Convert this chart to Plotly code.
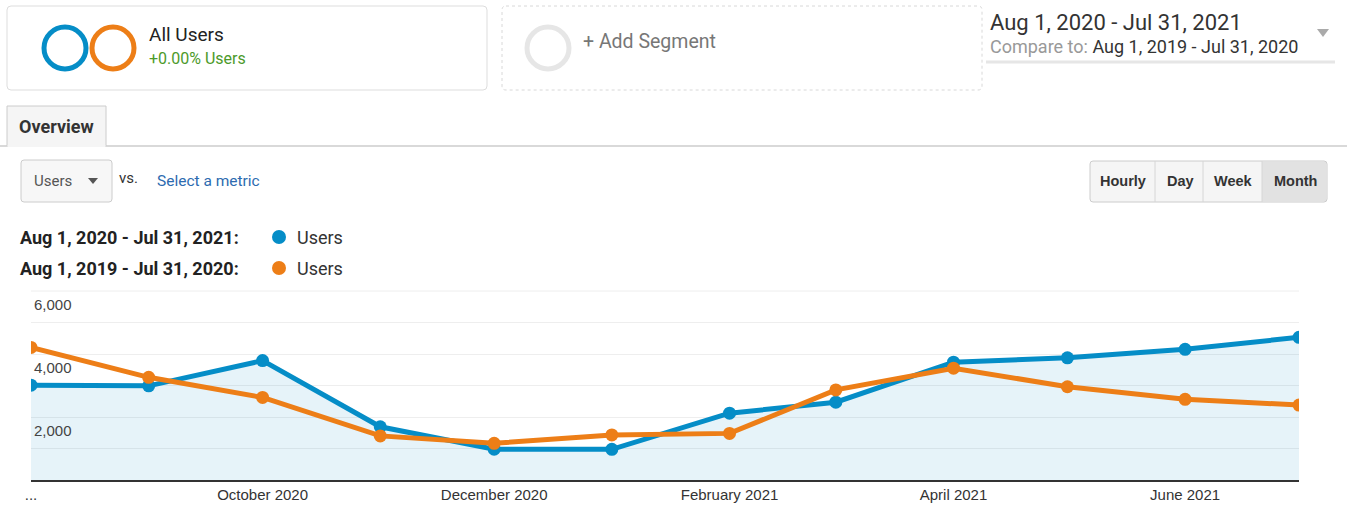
import plotly.graph_objects as go

W, H = 1347, 508

# monthly Users
months = ['2020-08-01', '2020-09-01', '2020-10-01', '2020-11-01', '2020-12-01', '2021-01-01',
          '2021-02-01', '2021-03-01', '2021-04-01', '2021-05-01', '2021-06-01', '2021-07-01']
users_2020_21 = [3010, 2990, 3790, 1690, 980, 975, 2120, 2470, 3740, 3880, 4150, 4530]
users_2019_20 = [4210, 3260, 2620, 1400, 1165, 1430, 1480, 2860, 3550, 2960, 2560, 2380]

tick_dates = ['2020-08-01', '2020-10-01', '2020-12-01', '2021-02-01', '2021-04-01', '2021-06-01']
tick_text = ['...', 'October 2020', 'December 2020', 'February 2021', 'April 2021', 'June 2021']
y_ticks = [2000, 4000, 6000]

BLUE = '#058dc7'
ORANGE = '#ed7e17'
CHART_FONT = 'Liberation Sans, Arial, sans-serif'
UI_FONT = 'Roboto, Arial, sans-serif'


# pixel -> paper helpers
def px(x):
    return x / W


def py(y):
    return 1 - y / H


def rrect(x0, y0, x1, y1, r=4):
    X0, X1 = px(x0), px(x1)
    Y0, Y1 = py(y0), py(y1)
    rx, ry = r / W, r / H
    return (f"M{X0+rx},{Y0} L{X1-rx},{Y0} Q{X1},{Y0} {X1},{Y0-ry} L{X1},{Y1+ry} "
            f"Q{X1},{Y1} {X1-rx},{Y1} L{X0+rx},{Y1} Q{X0},{Y1} {X0},{Y1+ry} "
            f"L{X0},{Y0-ry} Q{X0},{Y0} {X0+rx},{Y0} Z")


fig = go.Figure()

fig.add_trace(go.Scatter(
    x=months, y=users_2020_21, mode='lines+markers',
    line=dict(color=BLUE, width=5), marker=dict(size=13, color=BLUE),
    fill='tozeroy', fillcolor='rgba(5,141,199,0.1)', showlegend=False,
))
fig.add_trace(go.Scatter(
    x=months, y=users_2019_20, mode='lines+markers',
    line=dict(color=ORANGE, width=5), marker=dict(size=13, color=ORANGE),
    showlegend=False,
))

shapes = []
annotations = []


def text(x, y, s, size=14, color='#333', xanchor='left', font=UI_FONT, bold=False):
    if bold:
        s = f'<b>{s}</b>'
    if xanchor == 'left':
        x -= 2  # annotation padding
    annotations.append(dict(x=px(x), y=py(y), xref='paper', yref='paper', text=s,
                            showarrow=False, xanchor=xanchor, yanchor='middle',
                            font=dict(size=size, color=color, family=font)))


def circle(cx, cy, r, color, width=5):
    shapes.append(dict(type='circle', xref='paper', yref='paper',
                       x0=px(cx - r), x1=px(cx + r), y0=py(cy + r), y1=py(cy - r),
                       line=dict(color=color, width=width)))


def hline(x0, x1, y, color, width=1):
    shapes.append(dict(type='line', xref='paper', yref='paper',
                       x0=px(x0), x1=px(x1), y0=py(y), y1=py(y),
                       line=dict(color=color, width=width)))


# segment cards
shapes.append(dict(type='path', xref='paper', yref='paper', path=rrect(7, 6, 487, 90),
                   line=dict(color='#dddddd', width=1), fillcolor='white'))
circle(65, 48, 21, BLUE)
circle(113, 48, 21, ORANGE)
text(149, 35, 'All Users', size=19, color='#222')
text(149, 58, '+0.00% Users', size=16, color='#4c9a2a')

shapes.append(dict(type='path', xref='paper', yref='paper', path=rrect(502, 6, 982, 90),
                   line=dict(color='#d8d8d8', width=1, dash='dot'), fillcolor='white'))
circle(548, 48, 21, '#e6e6e6')
text(583, 42, '+ Add Segment', size=19.5, color='#777')

# date range
text(990, 22, 'Aug 1, 2020 - Jul 31, 2021', size=22, color='#333')
text(990, 46, "<span style='color:#999'>Compare to: </span>Aug 1, 2019 - Jul 31, 2020",
     size=18, color='#333')
hline(986, 1335, 62, '#e6e6e6', 3)
shapes.append(dict(type='path', xref='paper', yref='paper',
                   path=f"M{px(1317)},{py(29)} L{px(1329)},{py(29)} L{px(1323)},{py(37)} Z",
                   line=dict(width=0), fillcolor='#aaaaaa'))

# overview tab
hline(0, W, 146, '#cccccc', 1.5)
shapes.append(dict(type='rect', xref='paper', yref='paper',
                   x0=px(7), x1=px(106), y0=py(146), y1=py(106),
                   line=dict(color='#cccccc', width=1), fillcolor='#f5f5f5'))
hline(7.5, 105.5, 146, '#f5f5f5', 2)
text(56, 126, 'Overview', size=18, color='#333', xanchor='center', bold=True)

# metric selector
shapes.append(dict(type='path', xref='paper', yref='paper', path=rrect(21, 160, 112, 202, 3),
                   line=dict(color='#cccccc', width=1), fillcolor='#f7f7f7'))
text(34, 181, 'Users', size=15, color='#555')
shapes.append(dict(type='path', xref='paper', yref='paper',
                   path=f"M{px(88)},{py(178)} L{px(98)},{py(178)} L{px(93)},{py(184)} Z",
                   line=dict(width=0), fillcolor='#555555'))
text(119, 178, 'vs.', size=15, color='#333')
text(157, 181, 'Select a metric', size=15.5, color='#2d6bb0')

# granularity buttons
shapes.append(dict(type='path', xref='paper', yref='paper', path=rrect(1090, 161, 1327, 202, 3),
                   line=dict(color='#cccccc', width=1), fillcolor='#f5f5f5'))
shapes.append(dict(type='rect', xref='paper', yref='paper',
                   x0=px(1262), x1=px(1326), y0=py(201), y1=py(162),
                   line=dict(width=0), fillcolor='#e2e2e2'))
for xd in [1155, 1203, 1262]:
    shapes.append(dict(type='line', xref='paper', yref='paper', x0=px(xd), x1=px(xd),
                       y0=py(161), y1=py(202), line=dict(color='#d6d6d6', width=1)))
for label, xc in [('Hourly', 1123), ('Day', 1180), ('Week', 1233), ('Month', 1295)]:
    text(xc, 181, label, size=14.5, color='#333', xanchor='center', font=CHART_FONT, bold=True)

# legend
for yy, rng, col in [(237, 'Aug 1, 2020 - Jul 31, 2021:', BLUE),
                     (268, 'Aug 1, 2019 - Jul 31, 2020:', ORANGE)]:
    text(20, yy, rng, size=18, color='#222', font=UI_FONT, bold=True)
    shapes.append(dict(type='circle', xref='paper', yref='paper',
                       x0=px(272), x1=px(286), y0=py(yy + 7), y1=py(yy - 7),
                       line=dict(width=0), fillcolor=col))
    text(297, yy, 'Users', size=18, color='#333', font=UI_FONT)

# top grid line at range edge
hline(31, 1299, 291, '#eeeeee', 1)

# y labels inside the plot, just below their grid line
for v in y_ticks:
    annotations.append(dict(x=px(32), y=v, xref='paper', yref='y', text=f'{v:,}',
                            showarrow=False, xanchor='left', yanchor='top', yshift=-3,
                            font=dict(size=15, color='#444', family=CHART_FONT)))

fig.update_layout(
    width=W, height=H,
    margin=dict(l=0, r=0, t=0, b=0, autoexpand=False),
    paper_bgcolor='white', plot_bgcolor='white',
    shapes=shapes, annotations=annotations,
    xaxis=dict(domain=[px(31), px(1299)], type='date', automargin=False,
               range=['2020-08-01', '2021-07-01'],
               tickvals=tick_dates, ticktext=tick_text, showgrid=False,
               tickfont=dict(size=15, color='#333', family=CHART_FONT),
               showline=True, linecolor='#333', linewidth=2, ticks='', zeroline=False),
    yaxis=dict(domain=[py(480), py(291)], range=[0, 6000], dtick=1000, automargin=False,
               showticklabels=False, gridcolor='#eeeeee', gridwidth=1, zeroline=False),
)

fig.write_html("out.html", config={'displayModeBar': False},
               post_script="document.body.style.margin='0';document.body.style.overflow='hidden';")
